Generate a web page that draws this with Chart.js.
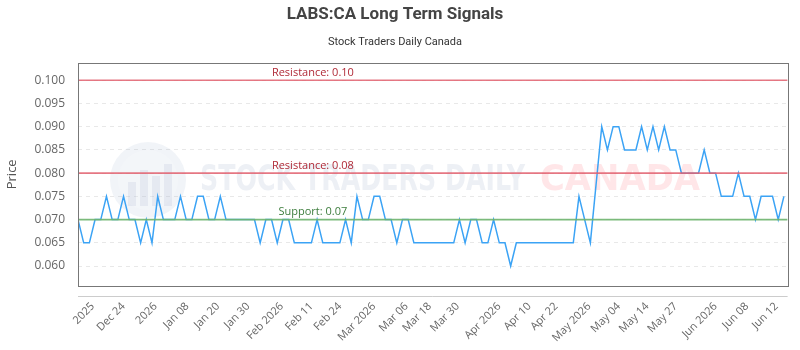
<!DOCTYPE html>
<html>
<head>
<meta charset="utf-8">
<script src="https://cdn.jsdelivr.net/npm/chart.js@4/dist/chart.umd.min.js"></script>
<style>
  html, body { margin: 0; padding: 0; background: #fff; }
  #wrap { width: 800px; height: 350px; }
</style>
</head>
<body>
<div id="wrap"><canvas id="c" width="800" height="350"></canvas></div>
<script>
// ---- data ----
const prices = [
  0.070, 0.065, 0.065, 0.070, 0.070, 0.075, 0.070, 0.070, 0.075, 0.070,
  0.070, 0.065, 0.070, 0.065, 0.075, 0.070, 0.070, 0.070, 0.075, 0.070,
  0.070, 0.075, 0.075, 0.070, 0.070, 0.075, 0.070, 0.070, 0.070, 0.070,
  0.070, 0.070, 0.065, 0.070, 0.070, 0.065, 0.070, 0.070, 0.065, 0.065,
  0.065, 0.065, 0.070, 0.065, 0.065, 0.065, 0.065, 0.070, 0.065, 0.075,
  0.070, 0.070, 0.075, 0.075, 0.070, 0.070, 0.065, 0.070, 0.070, 0.065,
  0.065, 0.065, 0.065, 0.065, 0.065, 0.065, 0.065, 0.070, 0.065, 0.070,
  0.070, 0.065, 0.065, 0.070, 0.065, 0.065, 0.060, 0.065, 0.065, 0.065,
  0.065, 0.065, 0.065, 0.065, 0.065, 0.065, 0.065, 0.065, 0.075, 0.070,
  0.065, 0.0775, 0.090, 0.085, 0.090, 0.090, 0.085, 0.085, 0.085, 0.090,
  0.085, 0.090, 0.085, 0.090, 0.085, 0.085, 0.080, 0.080, 0.080, 0.080,
  0.085, 0.080, 0.080, 0.075, 0.075, 0.075, 0.080, 0.075, 0.075, 0.070,
  0.075, 0.075, 0.075, 0.070, 0.075
];
const tickLabels = ["2025","Dec 24","2026","Jan 08","Jan 20","Jan 30","Feb 2026","Feb 11","Feb 24",
  "Mar 2026","Mar 06","Mar 18","Mar 30","Apr 2026","Apr 10","Apr 22","May 2026","May 04",
  "May 14","May 27","Jun 2026","Jun 08","Jun 12"];
const tickIndex = [2.6, 8, 13.6, 19.2, 24.6, 29.9, 35.8, 41, 46, 52, 57.7, 61.8, 66.7, 74, 79.3, 84,
  89.8, 95, 100, 105, 112, 117.5, 122.7];
const yTicks = [0.060, 0.065, 0.070, 0.075, 0.080, 0.085, 0.090, 0.095, 0.100];
const resistanceLevels = [0.10, 0.08];
const supportLevels = [0.07];
const titleText = "LABS:CA Long Term Signals";
const subtitleText = "Stock Traders Daily Canada";

// ---- build ----
const lastIdx = prices.length - 1;
const pricePoints = prices.map((v, i) => ({x: i, y: v}));
const levelSet = (v) => [{x: 0, y: v}, {x: lastIdx + 0.65, y: v}];

const datasets = [];
resistanceLevels.forEach(v => datasets.push({
  label: 'Resistance', data: levelSet(v), borderColor: 'rgba(226,96,110,0.85)', borderWidth: 1.6,
  pointRadius: 0, tension: 0, levelText: 'Resistance: ' + v.toFixed(2), textColor: '#b02a37'
}));
supportLevels.forEach(v => datasets.push({
  label: 'Support', data: levelSet(v), borderColor: 'rgba(110,180,110,0.9)', borderWidth: 1.6,
  pointRadius: 0, tension: 0, levelText: 'Support: ' + v.toFixed(2), textColor: '#3d7d3d'
}));
datasets.push({
  label: 'Price', data: pricePoints, borderColor: '#3ba3f5', borderWidth: 1.5,
  pointRadius: 0, tension: 0
});

const watermark = {
  id: 'watermark',
  beforeDatasetsDraw(chart) {
    const ctx = chart.ctx;
    ctx.save();
    ctx.globalAlpha = 0.12;
    ctx.fillStyle = '#8fa3c8';
    ctx.beginPath(); ctx.arc(148, 180, 38, 0, Math.PI * 2); ctx.fill();
    ctx.globalAlpha = 0.18;
    ctx.fillStyle = '#ffffff';
    ctx.beginPath(); ctx.arc(148, 180, 30, 0, Math.PI * 2); ctx.fill();
    ctx.globalAlpha = 0.10;
    ctx.fillStyle = '#5f78a8';
    [[128,182,8,24],[140,170,8,36],[152,176,8,30],[164,164,8,42]].forEach(b => ctx.fillRect(b[0], b[1], b[2], b[3]));
    ctx.globalAlpha = 1;
    ctx.font = 'bold 36px "DejaVu Sans Condensed", "Liberation Sans Narrow", sans-serif';
    ctx.textBaseline = 'middle';
    ctx.textAlign = 'left';
    ctx.fillStyle = 'rgba(190,200,220,0.28)';
    const t1 = 'STOCK TRADERS DAILY';
    const w1 = ctx.measureText(t1).width;
    ctx.save(); ctx.translate(200, 181); ctx.scale(325 / w1, 1); ctx.fillText(t1, 0, 0); ctx.restore();
    ctx.fillStyle = 'rgba(255,140,150,0.22)';
    const t2 = 'CANADA';
    const w2 = ctx.measureText(t2).width;
    ctx.save(); ctx.translate(540, 181); ctx.scale(160 / w2, 1); ctx.fillText(t2, 0, 0); ctx.restore();
    ctx.restore();
  },
  afterDraw(chart) {
    const ctx = chart.ctx, a = chart.chartArea;
    ctx.save();
    ctx.strokeStyle = '#777';
    ctx.lineWidth = 1;
    ctx.strokeRect(Math.round(a.left) + 0.5, Math.round(a.top) + 0.5, Math.round(a.right - a.left), Math.round(a.bottom - a.top));
    ctx.strokeStyle = '#ccc';
    ctx.beginPath();
    ctx.moveTo(a.left, Math.round(a.bottom) + 10.5);
    ctx.lineTo(a.right, Math.round(a.bottom) + 10.5);
    ctx.stroke();
    const ys = chart.scales.y;
    ctx.font = '11px "Open Sans", sans-serif';
    ctx.textAlign = 'center';
    ctx.textBaseline = 'bottom';
    chart.data.datasets.forEach(ds => {
      if (!ds.levelText) return;
      ctx.fillStyle = ds.textColor;
      const px = a.left + (a.right - a.left) * 0.331;
      ctx.fillText(ds.levelText, px, ys.getPixelForValue(ds.data[0].y) - 2);
    });
    ctx.restore();
  }
};

new Chart(document.getElementById('c'), {
  type: 'line',
  data: { datasets },
  options: {
    responsive: false,
    animation: false,
    layout: { padding: { left: 0, right: 10, top: 0, bottom: 0 } },
    plugins: {
      legend: { display: false },
      tooltip: { enabled: false },
      title: { display: true, text: titleText, color: '#444', font: { family: 'Roboto', size: 17, weight: 'bold' }, padding: { top: 5, bottom: 8 } },
      subtitle: { display: true, text: subtitleText, color: '#333', font: { family: 'Roboto', size: 11 }, padding: { top: 2, bottom: 14 } }
    },
    scales: {
      x: {
        type: 'linear', min: 0, max: lastIdx + 0.65,
        grid: { display: false, drawTicks: false },
        border: { display: false },
        afterBuildTicks: (s) => { s.ticks = tickIndex.map(v => ({ value: v })); },
        afterFit: (s) => { s.height = 64; },
        ticks: {
          autoSkip: false, maxRotation: 45, minRotation: 45, padding: 14,
          color: '#666', font: { family: '"Open Sans", sans-serif', size: 11 },
          callback: (v, i) => tickLabels[i]
        }
      },
      y: {
        min: 0.0557, max: 0.1038,
        afterBuildTicks: (s) => { s.ticks = yTicks.map(v => ({ value: v })); },
        afterFit: (s) => { s.width = 78; },
        grid: { color: 'rgba(0,0,0,0.09)', drawTicks: false },
        border: { display: false, dash: [4, 4] },
        ticks: { padding: 13, color: '#666', font: { family: '"Open Sans", sans-serif', size: 12 }, callback: v => v.toFixed(3) },
        title: { display: true, text: 'Price', color: '#555', font: { family: '"Open Sans", sans-serif', size: 13 } }
      }
    }
  },
  plugins: [watermark]
});
</script>
</body>
</html>
